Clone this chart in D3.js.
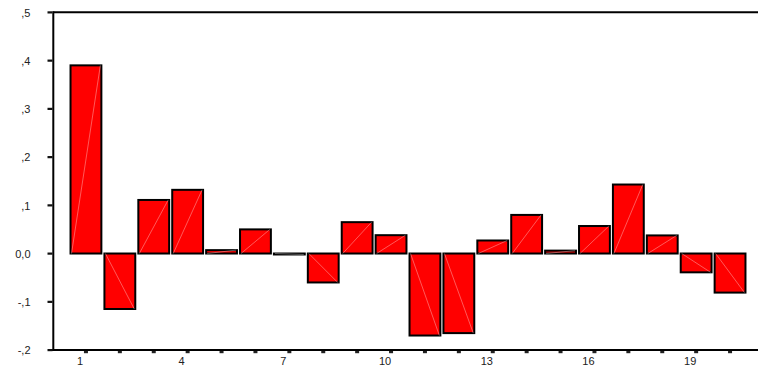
<!DOCTYPE html>
<html><head><meta charset="utf-8">
<script src="https://cdn.jsdelivr.net/npm/d3@7"></script>
<style>html,body{margin:0;padding:0;background:#fff;overflow:hidden}</style>
</head><body>
<svg id="c" width="758" height="367"></svg>
<script>
const categories = [1,2,3,4,5,6,7,8,9,10,11,12,13,14,15,16,17,18,19,20];
const values = [0.390,-0.115,0.111,0.132,0.007,0.050,-0.002,-0.060,0.065,0.038,-0.170,-0.165,0.027,0.080,0.006,0.057,0.143,0.0375,-0.039,-0.081];
const yTicks = [0.5,0.4,0.3,0.2,0.1,0.0,-0.1,-0.2];
const yTickLabels = [",5",",4",",3",",2",",1","0,0","-,1","-,2"];
const xLabelCats = [1,4,7,10,13,16,19];

const svg = d3.select("#c");
const x = d3.scaleBand().domain(categories).range([69,747]).paddingInner(0.09).paddingOuter(0.045);
const y = d3.scaleLinear().domain([-0.2,0.5]).range([350,12.3]);
const font = "'Liberation Sans', Arial, sans-serif";

// bars
const g = svg.append("g");
categories.forEach((c,i)=>{
  const v = values[i];
  const x0 = x(c), w = x.bandwidth();
  const yt = y(Math.max(0,v)), yb = y(Math.min(0,v));
  g.append("rect").attr("x",x0).attr("y",yt).attr("width",w).attr("height",Math.max(0.5,yb-yt))
    .attr("fill","#ff0000").attr("stroke","#000").attr("stroke-width",2);
  g.append("line").attr("x1",x0+1).attr("y1",y(0)).attr("x2",x0+w-1).attr("y2",y(v))
    .attr("stroke","rgba(255,255,255,0.35)").attr("stroke-width",1);
});

// frame lines
const xRight = 758;
svg.append("line").attr("x1",53.3).attr("x2",xRight).attr("y1",y(0.5)).attr("y2",y(0.5)).attr("stroke","#000").attr("stroke-width",2);
svg.append("line").attr("x1",53.3).attr("x2",53.3).attr("y1",y(0.5)-1).attr("y2",y(-0.2)+1).attr("stroke","#000").attr("stroke-width",2);
svg.append("line").attr("x1",52).attr("x2",xRight).attr("y1",y(-0.2)).attr("y2",y(-0.2)).attr("stroke","#000").attr("stroke-width",2);

// y ticks
yTicks.forEach((t,i)=>{
  svg.append("rect").attr("x",47.5).attr("y",y(t)-1).attr("width",5).attr("height",2.2).attr("fill","#111");
  svg.append("text").attr("x",30.5).attr("y",y(t)+1.5).attr("text-anchor","end").attr("dominant-baseline","middle")
    .attr("font-family",font).attr("font-size",11).attr("fill","#222").text(yTickLabels[i]);
});

// x ticks
categories.forEach(c=>{
  const cx = x(c)+x.bandwidth()/2;
  svg.append("rect").attr("x",cx-2).attr("y",y(-0.2)+1).attr("width",4).attr("height",2.2).attr("fill","#222");
});
xLabelCats.forEach(c=>{
  const cx = x(c)+x.bandwidth()/2 - 6;
  svg.append("text").attr("x",cx).attr("y",365).attr("text-anchor","middle")
    .attr("font-family",font).attr("font-size",11).attr("fill","#222").text(c);
});
</script>
</body></html>
